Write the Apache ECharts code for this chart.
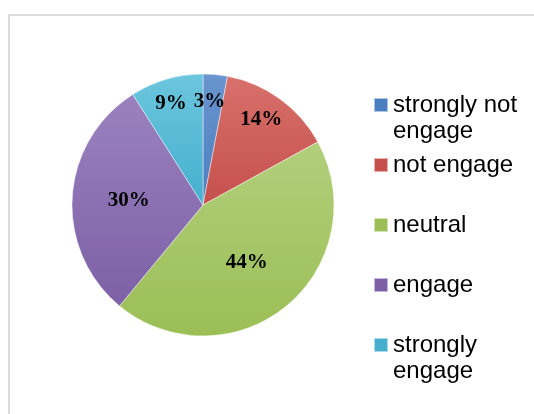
<!DOCTYPE html>
<html>
<head>
<meta charset="utf-8">
<script src="https://cdn.jsdelivr.net/npm/echarts@6/dist/echarts.min.js"></script>
<style>
  html, body { margin: 0; padding: 0; background: #ffffff; }
  #chart { width: 534px; height: 414px; }
</style>
</head>
<body>
<div id="chart"></div>
<script>
// Survey responses on engagement, share of respondents (%)
const categories = ['strongly not\nengage', 'not engage', 'neutral', 'engage', 'strongly\nengage'];
const shares = [3, 14, 44, 30, 9];

// Slice colours: base tone (bottom) and lighter tone (top) for the shading
const baseColors = ['#4A7EC0', '#C5504C', '#9BBE55', '#7D60A6', '#45AFCD'];
const lightColors = ['#6A95CE', '#D8706B', '#B2CF7C', '#9A82BE', '#6CC6DE'];

// Label nudges from the default inside position (dx, dy)
const labelNudges = [[0, -35], [18, -30], [0, 5], [-6, 0], [-13, -36]];

// Vertical offsets of the legend entries
const legendTops = [66, 152, 212, 272, 306];

const chart = echarts.init(document.getElementById('chart'), null, { renderer: 'canvas' });

const seriesData = categories.map((name, i) => ({
  name: name,
  value: shares[i],
  itemStyle: {
    color: new echarts.graphic.LinearGradient(0, 0, 0, 1, [
      { offset: 0, color: lightColors[i] },
      { offset: 1, color: baseColors[i] }
    ])
  }
}));

// Each entry is its own legend so the swatch sits beside the first text line;
// wrapped names get an empty leading line to keep that alignment.
const legends = categories.map((name, i) => ({
  data: [{ name: name, itemStyle: { color: baseColors[i] } }],
  orient: 'vertical',
  left: 373,
  top: legendTops[i],
  padding: 0,
  itemWidth: 14,
  itemHeight: 14,
  icon: 'rect',
  selectedMode: false,
  formatter: n => (n.indexOf('\n') >= 0 ? '\n' + n : n),
  textStyle: {
    fontFamily: 'Liberation Sans',
    fontSize: 24,
    lineHeight: 26,
    color: '#000000'
  }
}));

chart.setOption({
  animation: false,
  backgroundColor: '#ffffff',
  color: baseColors,
  graphic: [{
    type: 'rect',
    shape: { x: 9, y: 15, width: 600, height: 500 },
    style: { fill: 'none', stroke: '#DCDCDC', lineWidth: 2 },
    silent: true
  }],
  legend: legends,
  series: [{
    type: 'pie',
    center: [203, 205],
    radius: 131,
    startAngle: 90,
    clockwise: true,
    avoidLabelOverlap: false,
    itemStyle: { borderColor: 'rgba(255,255,255,0.55)', borderWidth: 0.8 },
    label: {
      show: true,
      position: 'inside',
      formatter: p => p.value + '%',
      fontFamily: 'Liberation Serif',
      fontWeight: 'bold',
      fontSize: 21,
      color: '#000000'
    },
    labelLine: { show: false },
    labelLayout: params => {
      const n = labelNudges[params.dataIndex];
      return { dx: n[0], dy: n[1] };
    },
    emphasis: { disabled: true },
    data: seriesData
  }]
});
</script>
</body>
</html>
